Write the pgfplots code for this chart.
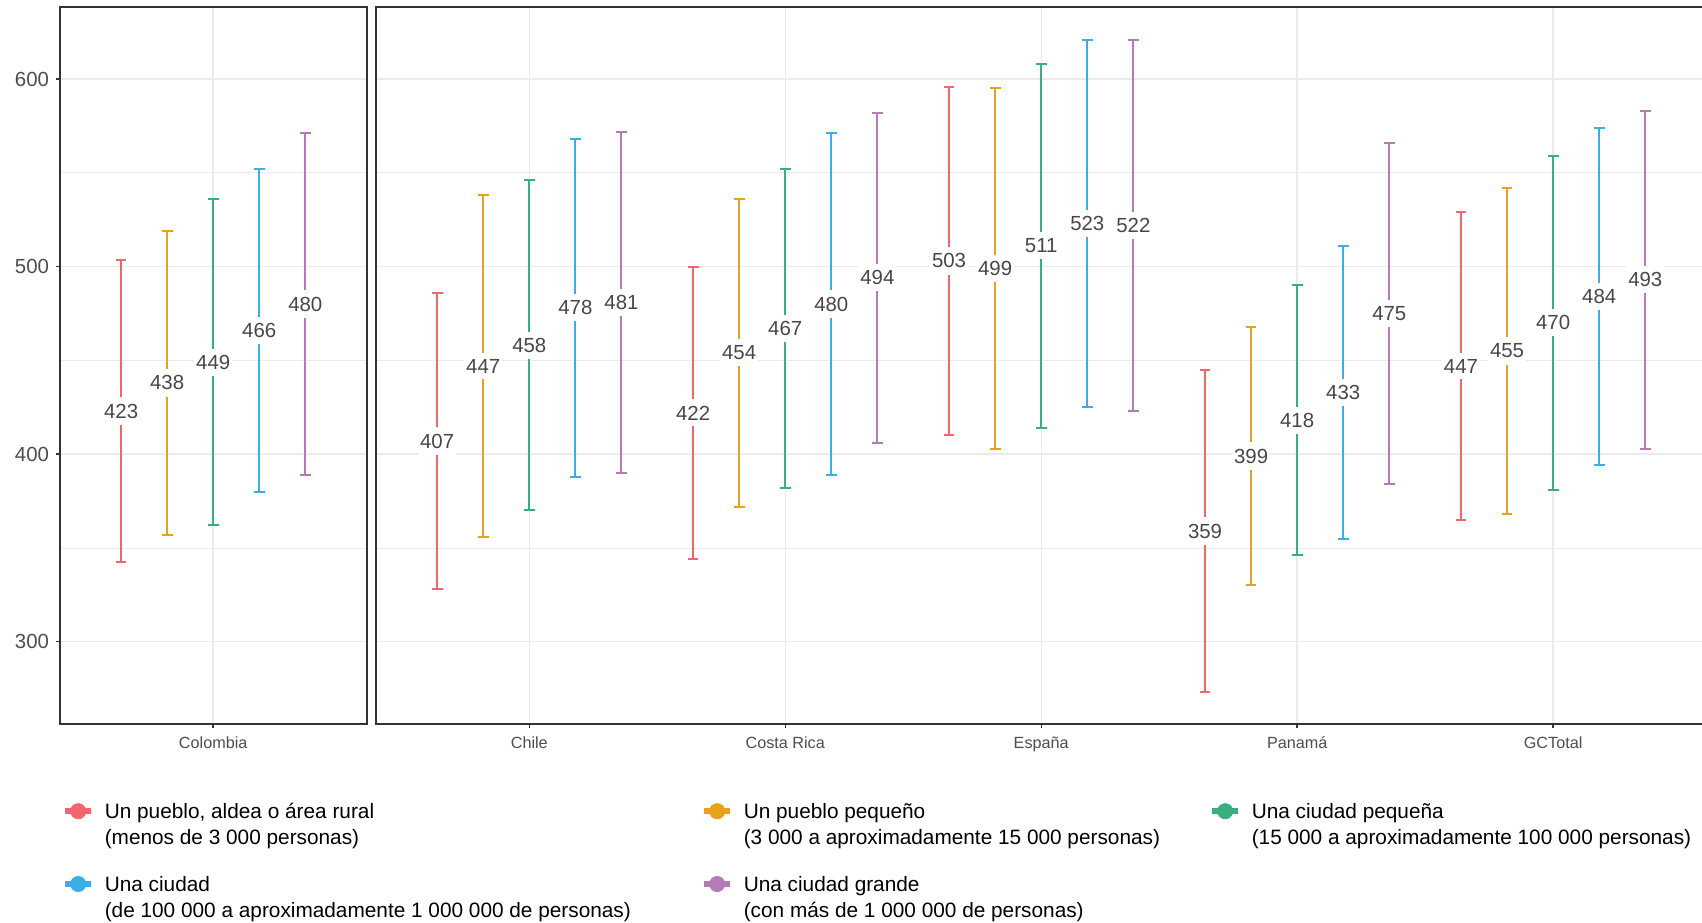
\documentclass[border=0pt]{standalone}
\usepackage{fontspec}
\setmainfont{Liberation Sans}
\usepackage{pgfplots}
\usepackage{pgfplotstable}
\pgfplotsset{compat=1.18}

\definecolor{cr}{HTML}{F1666D}
\definecolor{co}{HTML}{E9A01E}
\definecolor{cg}{HTML}{3AAF7E}
\definecolor{cb}{HTML}{3AAFE5}
\definecolor{cp}{HTML}{B57AB8}
\definecolor{gridc}{HTML}{EBEBEB}
\definecolor{framec}{HTML}{333333}
\definecolor{tickc}{HTML}{4D4D4D}
\definecolor{labc}{HTML}{474747}

% x: 0 Colombia, 1 Chile, 2 Costa Rica, 3 España, 4 Panamá, 5 GCTotal
% y: mean, e: half width of the interval
\pgfplotstableread{
x y e
0 423 80.5
1 407 79
2 422 78
3 503 93
4 359 86
5 447 82
}\rural
\pgfplotstableread{
x y e
0 438 81
1 447 91
2 454 82
3 499 96
4 399 69
5 455 87
}\pueblo
\pgfplotstableread{
x y e
0 449 87
1 458 88
2 467 85
3 511 97
4 418 72
5 470 89
}\ciudadp
\pgfplotstableread{
x y e
0 466 86
1 478 90
2 480 91
3 523 98
4 433 78
5 484 90
}\ciudad
\pgfplotstableread{
x y e
0 480 91
1 481 91
2 494 88
3 522 99
4 475 91
5 493 90
}\ciudadg

\pgfplotsset{
  panel/.style={
    scale only axis, height=358.8pt,
    ymin=256, ymax=638.55,
    axis line style={draw=framec, line width=0.85pt},
    ytick={300,400,500,600}, minor ytick={350,450,550},
    xmajorgrids, ymajorgrids, yminorgrids,
    major grid style={draw=gridc, line width=0.7pt},
    minor grid style={draw=gridc, line width=0.35pt},
    tick align=outside, xtick pos=left,
    major tick length=1.8pt, minor tick length=0pt,
    tick style={draw=framec, line width=0.7pt},
    xticklabel style={font=\fontsize{8.1}{10}\selectfont, text=tickc, yshift=-0.8pt},
    yticklabel style={font=\fontsize{10.2}{12}\selectfont, text=tickc},
    /pgf/number format/assume math mode=true,
  },
  ebar/.style={draw=none, mark=none, forget plot,
    error bars/.cd, y dir=both, y explicit,
    error bar style={draw=#1, line width=1pt},
    error mark options={rotate=90, draw=#1, line width=1pt, mark size=2.7pt}},
  lab/.style={draw=none, mark=none, forget plot, point meta=explicit,
    nodes near coords,
    every node near coord/.append style={anchor=center, fill=white, text=labc,
      inner xsep=1pt, inner ysep=3.2pt, font=\fontsize{10.2}{12}\selectfont}},
  key/.style={legend image code/.code={
    \draw[draw=#1, line width=3pt] (0pt,3.6pt) -- (13pt,3.6pt);
    \fill[#1] (6.5pt,3.6pt) circle (3.8pt);}},
}

\newcommand\series[1]{%
  \addplot[ebar=cr] table[x expr=\thisrow{x}-0.36, y=y, y error=e] {\rural};
  \addplot[ebar=co] table[x expr=\thisrow{x}-0.18, y=y, y error=e] {\pueblo};
  \addplot[ebar=cg] table[x expr=\thisrow{x}, y=y, y error=e] {\ciudadp};
  \addplot[ebar=cb] table[x expr=\thisrow{x}+0.18, y=y, y error=e] {\ciudad};
  \addplot[ebar=cp] table[x expr=\thisrow{x}+0.36, y=y, y error=e] {\ciudadg};
  \addplot[lab] table[x expr=\thisrow{x}-0.36, y=y, meta=y] {\rural};
  \addplot[lab] table[x expr=\thisrow{x}-0.18, y=y, meta=y] {\pueblo};
  \addplot[lab] table[x expr=\thisrow{x}, y=y, meta=y] {\ciudadp};
  \addplot[lab] table[x expr=\thisrow{x}+0.18, y=y, meta=y] {\ciudad};
  \addplot[lab] table[x expr=\thisrow{x}+0.36, y=y, meta=y] {\ciudadg};
}

\begin{document}
\begin{tikzpicture}
\begin{axis}[panel, at={(0,0)}, width=153.5pt,
  xmin=-0.6, xmax=0.6, xtick={0}, xticklabels={Colombia},
  ytick pos=left,
  restrict x to domain=-0.6:0.6,
  legend columns=3,
  legend style={draw=none, fill=none, at={(0.0068,-0.1094)}, anchor=north west,
    inner sep=0pt, row sep=28.4pt, cells={anchor=base west},
    nodes={inner sep=0pt, text height=7.6pt, text depth=0pt},
    font=\fontsize{10.4}{13}\selectfont,
    /tikz/every odd column/.append style={column sep=5.3pt}},
  ]
  \series{}
  \addlegendimage{key=cr}
  \addlegendentry{\parbox[t]{298.2pt}{Un pueblo, aldea o área rural\\(menos de 3~000 personas)}}
  \addlegendimage{key=co}
  \addlegendentry{\parbox[t]{232.7pt}{Un pueblo pequeño\\(3~000 a aproximadamente 15~000 personas)}}
  \addlegendimage{key=cg}
  \addlegendentry{\parbox[t]{240pt}{Una ciudad pequeña\\(15~000 a aproximadamente 100~000 personas)}}
  \addlegendimage{key=cb}
  \addlegendentry{\parbox[t]{298.2pt}{Una ciudad\\(de 100~000 a aproximadamente 1~000~000 de personas)}}
  \addlegendimage{key=cp}
  \addlegendentry{\parbox[t]{232.7pt}{Una ciudad grande\\(con más de 1~000~000 de personas)}}
\end{axis}
\begin{axis}[panel, at={(158pt,0)}, width=665.5pt,
  xmin=0.4, xmax=5.6, xtick={1,2,3,4,5},
  xticklabels={Chile,Costa Rica,España,Panamá,GCTotal},
  ytick pos=right, yticklabels={},
  restrict x to domain=0.5:6,
  ]
  \series{}
\end{axis}
\pgfresetboundingbox
\useasboundingbox (-29.85pt,-98.85pt) rectangle (821.15pt,362.15pt);
\end{tikzpicture}
\end{document}
